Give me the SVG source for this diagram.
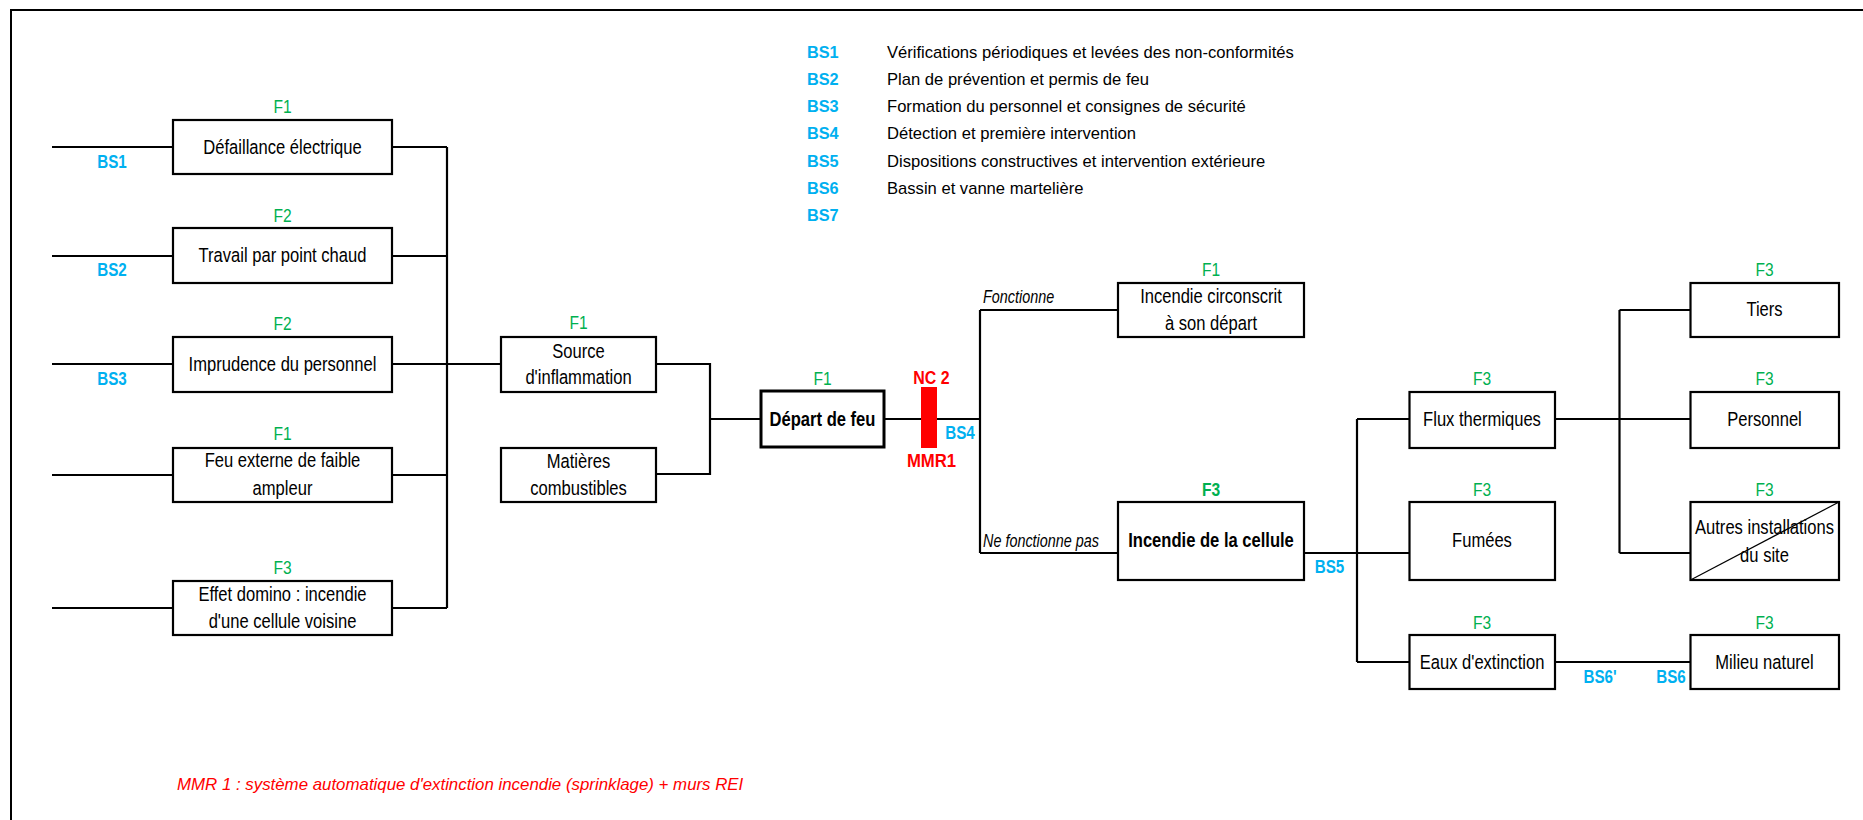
<svg xmlns="http://www.w3.org/2000/svg" width="1863" height="820" viewBox="0 0 1863 820">
  <style>
    text { font-family: "Liberation Sans", Arial, sans-serif; }
    .box { fill: #fff; stroke: #000; stroke-width: 2.2; }
    .box-main { fill: #fff; stroke: #000; stroke-width: 3; }
    .wire { fill: none; stroke: #000; stroke-width: 2.2; }
    .lbl { font-size: 19.5px; fill: #000; text-anchor: middle; }
    .lbl-b { font-size: 19.5px; font-weight: bold; fill: #000; text-anchor: middle; }
    .freq { font-size: 19px; fill: #00b050; text-anchor: middle; }
    .freq-b { font-size: 19px; font-weight: bold; fill: #00b050; text-anchor: middle; }
    .bs { font-size: 19px; font-weight: bold; fill: #00b0f0; text-anchor: middle; }
    .red { font-size: 19px; font-weight: bold; fill: #ff0000; text-anchor: middle; }
    .branch { font-size: 18px; font-style: italic; fill: #000; }
    .leg-key { font-size: 16.3px; font-weight: bold; fill: #00b0f0; }
    .leg-txt { font-size: 16.6px; fill: #000; }
    .note { font-size: 17.2px; font-style: italic; fill: #ff0000; }
  </style>

  <!-- frame -->
  <path d="M11 820V10H1863" fill="none" stroke="#000" stroke-width="2"/>

  <!-- legend of safety barriers -->
  <g id="legend">
    <text class="leg-key" x="807" y="58">BS1</text>
    <text class="leg-key" x="807" y="85.2">BS2</text>
    <text class="leg-key" x="807" y="112.3">BS3</text>
    <text class="leg-key" x="807" y="139.4">BS4</text>
    <text class="leg-key" x="807" y="166.5">BS5</text>
    <text class="leg-key" x="807" y="193.6">BS6</text>
    <text class="leg-key" x="807" y="220.7">BS7</text>
    <text class="leg-txt" x="887" y="58">Vérifications périodiques et levées des non-conformités</text>
    <text class="leg-txt" x="887" y="85.2">Plan de prévention et permis de feu</text>
    <text class="leg-txt" x="887" y="112.3">Formation du personnel et consignes de sécurité</text>
    <text class="leg-txt" x="887" y="139.4">Détection et première intervention</text>
    <text class="leg-txt" x="887" y="166.5">Dispositions constructives et intervention extérieure</text>
    <text class="leg-txt" x="887" y="193.6">Bassin et vanne martelière</text>
  </g>

  <!-- connectors -->
  <g id="connectors" class="wire">
    <path d="M52 147H173M52 256H173M52 364H173M52 475H173M52 608H173"/>
    <path d="M392 147H447M392 256H447M392 364H501M392 475H447M392 608H447M447 147V608"/>
    <path d="M656 364H710V474H656M710 419H761"/>
    <path d="M884 419H980M980 310V553M980 310H1118M980 553H1118"/>
    <path d="M1304 553H1409.5M1357 419V662M1357 419H1409.5M1357 662H1409.5"/>
    <path d="M1555 419H1690.5M1619.5 310V553M1619.5 310H1690.5M1619.5 553H1690.5"/>
    <path d="M1555 662H1690.5"/>
  </g>

  <!-- barrier labels on connectors -->
  <g id="barriers">
    <text class="bs" transform="matrix(0.8 0 0 1 112 0)" y="168">BS1</text>
    <text class="bs" transform="matrix(0.8 0 0 1 112 0)" y="276.5">BS2</text>
    <text class="bs" transform="matrix(0.8 0 0 1 112 0)" y="385">BS3</text>
    <text class="bs" transform="matrix(0.8 0 0 1 960 0)" y="439.5">BS4</text>
    <text class="bs" transform="matrix(0.8 0 0 1 1329.5 0)" y="573.5">BS5</text>
    <text class="bs" transform="matrix(0.8 0 0 1 1600 0)" y="683">BS6'</text>
    <text class="bs" transform="matrix(0.8 0 0 1 1671 0)" y="683">BS6</text>
    <text class="branch" transform="matrix(0.8 0 0 1 983 0)" y="303">Fonctionne</text>
    <text class="branch" transform="matrix(0.8 0 0 1 983 0)" y="547.5">Ne fonctionne pas</text>
  </g>

  <!-- MMR1 barrier -->
  <g id="mmr1">
    <rect x="921" y="387" width="16" height="61" fill="#ff0000"/>
    <text class="red" transform="matrix(0.84 0 0 1 931.5 0)" y="384.5">NC 2</text>
    <text class="red" transform="matrix(0.88 0 0 1 931.5 0)" y="467.5">MMR1</text>
  </g>

  <!-- initiating events -->
  <g id="n-defaillance">
    <rect class="box" x="173" y="120" width="219" height="54"/>
    <text class="freq" transform="matrix(0.82 0 0 1 282.5 0)" y="113">F1</text>
    <text class="lbl" transform="matrix(0.85 0 0 1 282.5 0)" y="154">Défaillance électrique</text>
  </g>
  <g id="n-travail">
    <rect class="box" x="173" y="228" width="219" height="55"/>
    <text class="freq" transform="matrix(0.82 0 0 1 282.5 0)" y="222">F2</text>
    <text class="lbl" transform="matrix(0.85 0 0 1 282.5 0)" y="262">Travail par point chaud</text>
  </g>
  <g id="n-imprudence">
    <rect class="box" x="173" y="337" width="219" height="55"/>
    <text class="freq" transform="matrix(0.82 0 0 1 282.5 0)" y="330">F2</text>
    <text class="lbl" transform="matrix(0.85 0 0 1 282.5 0)" y="371">Imprudence du personnel</text>
  </g>
  <g id="n-feu-externe">
    <rect class="box" x="173" y="448" width="219" height="54"/>
    <text class="freq" transform="matrix(0.82 0 0 1 282.5 0)" y="440">F1</text>
    <text class="lbl" transform="matrix(0.85 0 0 1 282.5 0)" y="467.5">Feu externe de faible</text>
    <text class="lbl" transform="matrix(0.85 0 0 1 282.5 0)" y="495">ampleur</text>
  </g>
  <g id="n-domino">
    <rect class="box" x="173" y="581" width="219" height="54"/>
    <text class="freq" transform="matrix(0.82 0 0 1 282.5 0)" y="574">F3</text>
    <text class="lbl" transform="matrix(0.85 0 0 1 282.5 0)" y="601.5">Effet domino : incendie</text>
    <text class="lbl" transform="matrix(0.85 0 0 1 282.5 0)" y="628.5">d'une cellule voisine</text>
  </g>

  <!-- combination -->
  <g id="n-source">
    <rect class="box" x="501" y="337" width="155" height="55"/>
    <text class="freq" transform="matrix(0.82 0 0 1 578.5 0)" y="329">F1</text>
    <text class="lbl" transform="matrix(0.85 0 0 1 578.5 0)" y="358">Source</text>
    <text class="lbl" transform="matrix(0.85 0 0 1 578.5 0)" y="384.5">d'inflammation</text>
  </g>
  <g id="n-matieres">
    <rect class="box" x="501" y="448" width="155" height="54"/>
    <text class="lbl" transform="matrix(0.85 0 0 1 578.5 0)" y="468.5">Matières</text>
    <text class="lbl" transform="matrix(0.85 0 0 1 578.5 0)" y="495">combustibles</text>
  </g>

  <!-- central event -->
  <g id="n-depart">
    <rect class="box-main" x="761" y="391" width="123" height="56"/>
    <text class="freq" transform="matrix(0.82 0 0 1 822.5 0)" y="385">F1</text>
    <text class="lbl-b" transform="matrix(0.85 0 0 1 822.5 0)" y="426">Départ de feu</text>
  </g>

  <!-- outcomes -->
  <g id="n-circonscrit">
    <rect class="box" x="1118" y="283" width="186" height="54"/>
    <text class="freq" transform="matrix(0.82 0 0 1 1211 0)" y="276">F1</text>
    <text class="lbl" transform="matrix(0.85 0 0 1 1211 0)" y="303.5">Incendie circonscrit</text>
    <text class="lbl" transform="matrix(0.85 0 0 1 1211 0)" y="330">à son départ</text>
  </g>
  <g id="n-cellule">
    <rect class="box" x="1118" y="502" width="186" height="78"/>
    <text class="freq-b" transform="matrix(0.82 0 0 1 1211 0)" y="496">F3</text>
    <text class="lbl-b" transform="matrix(0.85 0 0 1 1211 0)" y="547">Incendie de la cellule</text>
  </g>

  <!-- effects -->
  <g id="n-flux">
    <rect class="box" x="1409.5" y="392" width="145.5" height="56"/>
    <text class="freq" transform="matrix(0.82 0 0 1 1482 0)" y="385">F3</text>
    <text class="lbl" transform="matrix(0.85 0 0 1 1482 0)" y="426">Flux thermiques</text>
  </g>
  <g id="n-fumees">
    <rect class="box" x="1409.5" y="502" width="145.5" height="78"/>
    <text class="freq" transform="matrix(0.82 0 0 1 1482 0)" y="496">F3</text>
    <text class="lbl" transform="matrix(0.85 0 0 1 1482 0)" y="547">Fumées</text>
  </g>
  <g id="n-eaux">
    <rect class="box" x="1409.5" y="635" width="145.5" height="54"/>
    <text class="freq" transform="matrix(0.82 0 0 1 1482 0)" y="629">F3</text>
    <text class="lbl" transform="matrix(0.85 0 0 1 1482 0)" y="669">Eaux d'extinction</text>
  </g>

  <!-- targets -->
  <g id="n-tiers">
    <rect class="box" x="1690.5" y="283" width="148.5" height="54"/>
    <text class="freq" transform="matrix(0.82 0 0 1 1764.5 0)" y="276">F3</text>
    <text class="lbl" transform="matrix(0.85 0 0 1 1764.5 0)" y="316.5">Tiers</text>
  </g>
  <g id="n-personnel">
    <rect class="box" x="1690.5" y="392" width="148.5" height="56"/>
    <text class="freq" transform="matrix(0.82 0 0 1 1764.5 0)" y="385">F3</text>
    <text class="lbl" transform="matrix(0.85 0 0 1 1764.5 0)" y="426">Personnel</text>
  </g>
  <g id="n-autres">
    <rect class="box" x="1690.5" y="502" width="148.5" height="78"/>
    <text class="freq" transform="matrix(0.82 0 0 1 1764.5 0)" y="496">F3</text>
    <text class="lbl" transform="matrix(0.85 0 0 1 1764.5 0)" y="534">Autres installations</text>
    <text class="lbl" transform="matrix(0.85 0 0 1 1764.5 0)" y="562">du site</text>
    <path d="M1690.5 580L1839 502" stroke="#000" stroke-width="1.2"/>
  </g>
  <g id="n-milieu">
    <rect class="box" x="1690.5" y="635" width="148.5" height="54"/>
    <text class="freq" transform="matrix(0.82 0 0 1 1764.5 0)" y="629">F3</text>
    <text class="lbl" transform="matrix(0.85 0 0 1 1764.5 0)" y="669">Milieu naturel</text>
  </g>

  <!-- footnote -->
  <text class="note" transform="matrix(0.98 0 0 1 177 0)" y="790">MMR 1 : système automatique d'extinction incendie (sprinklage) + murs REI</text>
</svg>
